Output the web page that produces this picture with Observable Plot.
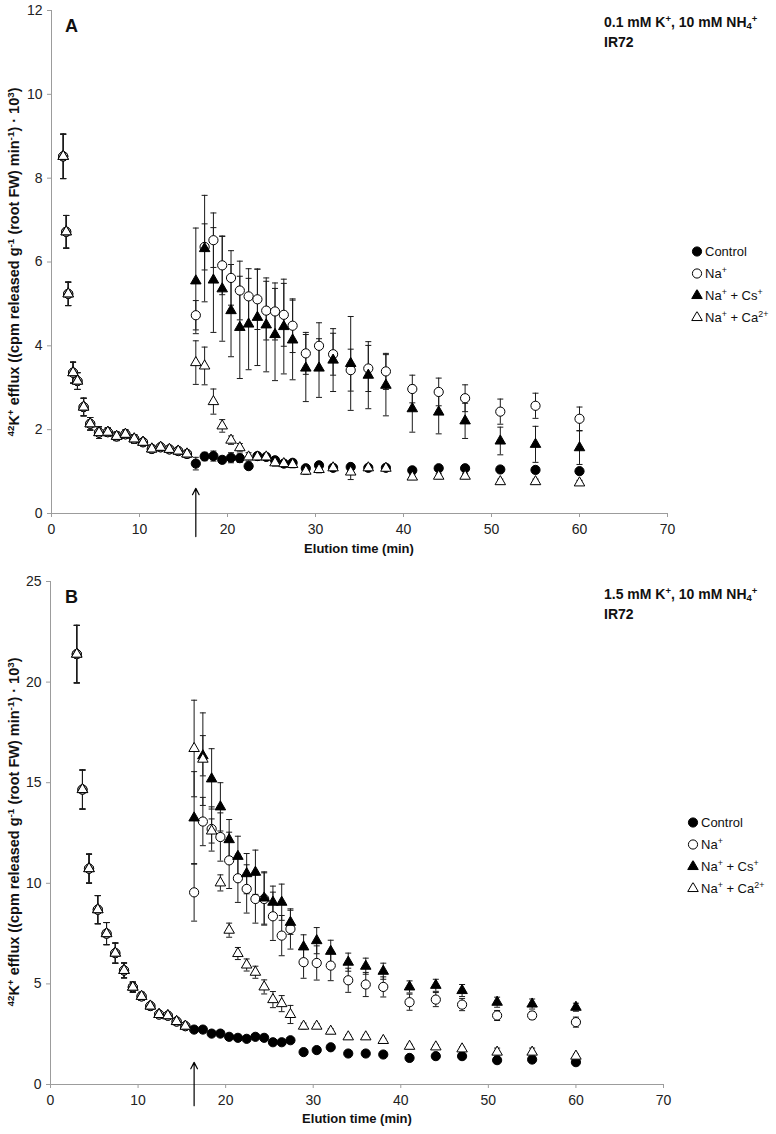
<!DOCTYPE html>
<html>
<head>
<meta charset="utf-8">
<script src="https://cdn.jsdelivr.net/npm/d3@7"></script>
<script src="https://cdn.jsdelivr.net/npm/@observablehq/plot@0.6"></script>
<style>
  html, body { margin: 0; padding: 0; background: #fff; }
  #root { position: relative; width: 776px; height: 1134px; font-family: "Liberation Sans", Arial, sans-serif; color: #111; }
  .abs { position: absolute; white-space: nowrap; }
  sup, sub { font-size: 0.68em; line-height: 0; }
  sup { vertical-align: 0.55em; }
  sub { vertical-align: -0.25em; }
  .ytitle { font-weight: bold; font-size: 14.5px; transform: translate(-50%, -50%) rotate(-90deg); }
  .xtitle { font-weight: bold; font-size: 13px; transform: translate(-50%, -50%); }
  .letter { font-weight: bold; font-size: 18px; transform: translateY(-50%); }
  .cond { font-weight: bold; font-size: 14px; transform: translateY(-50%); }
  .leg { font-size: 13px; display: flex; align-items: center; transform: translateY(-50%); }
  .leg svg { margin-right: 2px; }
</style>
</head>
<body>
<div id="root"></div>
<script>
// ---------- shared ----------
const ticksX = [0, 10, 20, 30, 40, 50, 60, 70];
const ticksYA = [0, 2, 4, 6, 8, 10, 12];
const ticksYB = [0, 5, 10, 15, 20, 25];
const seriesKeys = ["control", "na", "nacs", "naca"];
const seriesLabels = ["Control", "Na<sup>+</sup>", "Na<sup>+</sup> + Cs<sup>+</sup>", "Na<sup>+</sup> + Ca<sup>2+</sup>"];
const postTime = [16.4, 17.4, 18.4, 19.4, 20.4, 21.4, 22.4, 23.4, 24.4, 25.4, 26.4, 27.4, 28.9, 30.4, 32, 34, 36, 38, 41, 44, 47, 51, 55, 60];
const treatmentTime = 16.4;

// ---------- panel A: 0.1 mM K+ ----------
const preTimeA = [1.33, 1.67, 1.9, 2.45, 2.95, 3.65, 4.4, 5.4, 6.4, 7.4, 8.4, 9.4, 10.4, 11.4, 12.4, 13.4, 14.4, 15.4];
const preMeanA = [8.52, 6.72, 5.24, 3.36, 3.16, 2.54, 2.14, 1.93, 1.94, 1.84, 1.89, 1.78, 1.70, 1.54, 1.58, 1.53, 1.49, 1.42];
const preErrA  = [0.53, 0.39, 0.28, 0.25, 0.2, 0.21, 0.15, 0.14, 0.1, 0.1, 0.1, 0.1, 0.08, 0.07, 0.07, 0.07, 0.07, 0.07];

const controlA    = [1.19, 1.36, 1.37, 1.28, 1.33, 1.32, 1.13, 1.37, 1.35, 1.27, 1.19, 1.21, 1.08, 1.15, 1.09, 1.11, 1.09, 1.09, 1.03, 1.08, 1.08, 1.05, 1.04, 1.01];
const controlErrA = [0.15, 0.1, 0.12, 0.08, 0.12, 0.1, 0.06, 0.08, 0.08, 0.08, 0.07, 0.07, 0.07, 0.07, 0.06, 0.07, 0.06, 0.06, 0.06, 0.06, 0.06, 0.07, 0.07, 0.06];
const naA    = [4.73, 6.36, 6.52, 5.92, 5.62, 5.32, 5.18, 5.11, 4.84, 4.82, 4.74, 4.48, 3.82, 4.0, 3.8, 3.42, 3.46, 3.39, 2.97, 2.90, 2.75, 2.43, 2.57, 2.26];
const naErrA = [0.35, 0.55, 0.65, 0.7, 0.65, 0.7, 0.66, 0.72, 0.7, 0.68, 0.75, 0.64, 0.5, 0.55, 0.5, 0.5, 0.55, 0.43, 0.33, 0.33, 0.32, 0.3, 0.3, 0.28];
const naCsA    = [5.55, 6.32, 5.57, 5.36, 4.84, 4.44, 4.52, 4.68, 4.5, 4.27, 4.46, 4.14, 3.47, 3.47, 3.66, 3.58, 3.3, 3.06, 2.5, 2.42, 2.21, 1.73, 1.65, 1.57];
const naCsErrA = [1.26, 1.27, 1.25, 1.25, 1.1, 1.22, 1.09, 1.15, 1.12, 1.1, 1.13, 0.95, 0.8, 0.7, 0.75, 1.12, 0.8, 0.73, 0.56, 0.52, 0.42, 0.33, 0.43, 0.4];
const naCaA    = [3.6, 3.52, 2.67, 2.09, 1.75, 1.57, 1.35, 1.35, 1.35, 1.21, 1.19, 1.17, 1.01, 1.05, 1.09, 0.99, 1.09, 1.08, 0.87, 0.89, 0.89, 0.76, 0.76, 0.73];
const naCaErrA = [0.52, 0.45, 0.3, 0.15, 0.1, 0.1, 0.1, 0.08, 0.08, 0.08, 0.08, 0.08, 0.08, 0.08, 0.08, 0.18, 0.08, 0.07, 0.06, 0.06, 0.06, 0.06, 0.06, 0.06];

// ---------- panel B: 1.5 mM K+ ----------
const preTimeB = [3.0, 3.65, 4.4, 5.4, 6.4, 7.4, 8.4, 9.4, 10.4, 11.4, 12.4, 13.4, 14.4, 15.4];
const preMeanB = [21.39, 14.66, 10.73, 8.69, 7.50, 6.53, 5.67, 4.84, 4.38, 3.9, 3.48, 3.42, 3.13, 2.9];
const preErrB  = [1.43, 0.97, 0.72, 0.7, 0.55, 0.5, 0.37, 0.25, 0.2, 0.15, 0.1, 0.1, 0.1, 0.1];

const controlB    = [2.73, 2.73, 2.53, 2.53, 2.37, 2.32, 2.27, 2.37, 2.32, 2.10, 2.10, 2.20, 1.61, 1.71, 1.85, 1.54, 1.54, 1.49, 1.32, 1.41, 1.41, 1.21, 1.24, 1.11];
const controlErrB = [0.1, 0.1, 0.08, 0.08, 0.08, 0.08, 0.08, 0.08, 0.08, 0.08, 0.08, 0.08, 0.08, 0.08, 0.08, 0.08, 0.08, 0.08, 0.08, 0.08, 0.08, 0.08, 0.08, 0.08];
const naB    = [9.55, 13.07, 12.7, 12.3, 11.14, 10.25, 9.72, 9.22, 9.22, 8.36, 7.40, 7.73, 6.08, 6.04, 5.91, 5.18, 4.97, 4.85, 4.09, 4.22, 3.97, 3.43, 3.43, 3.10];
const naErrB = [1.43, 1.2, 1.1, 1.2, 1.4, 1.2, 1.2, 1.2, 1.3, 1.2, 1.0, 1.0, 0.8, 0.85, 0.75, 0.6, 0.6, 0.5, 0.4, 0.35, 0.3, 0.25, 0.2, 0.25];
const naCsB    = [13.25, 16.34, 15.19, 13.8, 12.17, 11.34, 10.48, 10.55, 9.27, 9.06, 9.06, 8.06, 6.84, 7.15, 6.62, 6.08, 5.88, 5.63, 4.85, 4.93, 4.67, 4.09, 4.0, 3.84];
const naCsErrB = [2.3, 1.0, 1.5, 1.2, 1.0, 1.0, 1.0, 1.1, 1.3, 0.8, 0.9, 0.6, 0.6, 0.65, 0.55, 0.45, 0.4, 0.4, 0.3, 0.3, 0.3, 0.25, 0.25, 0.2];
const naCaB    = [16.7, 16.17, 12.6, 10.02, 7.67, 6.51, 5.94, 5.58, 4.85, 4.22, 4.02, 3.48, 2.9, 2.9, 2.65, 2.37, 2.37, 2.19, 1.9, 1.87, 1.77, 1.61, 1.61, 1.41];
const naCaErrB = [2.4, 2.3, 0.6, 0.4, 0.35, 0.3, 0.3, 0.3, 0.35, 0.4, 0.4, 0.45, 0.15, 0.12, 0.12, 0.1, 0.1, 0.1, 0.1, 0.1, 0.1, 0.2, 0.2, 0.1];

// ---------- build ----------
const styleOf = {
  control: {symbol: "circle", fill: "#000", r: 4.6},
  na:      {symbol: "circle", fill: "#fff", r: 4.6},
  nacs:    {symbol: "triangle", fill: "#000", r: 3.9},
  naca:    {symbol: "triangle", fill: "#fff", r: 3.9}
};

function buildRows(preT, preM, preE, post) {
  const rows = [];
  seriesKeys.forEach((k, i) => {
    preT.forEach((t, j) => rows.push({s: k, t, v: preM[j], e: preE[j]}));
    postTime.forEach((t, j) => rows.push({s: k, t, v: post[i][0][j], e: post[i][1][j]}));
  });
  return rows;
}

const capSymbol = {
  draw(ctx, size) {
    const r = Math.sqrt(size / Math.PI);
    ctx.moveTo(-r, 0); ctx.lineTo(r, 0);
  }
};

function panel(rows, yDomain, yTicks, opts) {
  const marks = [
    Plot.ruleY([0], {stroke: "#9c9c9c", strokeWidth: 1}),
    Plot.ruleX([0], {stroke: "#9c9c9c", strokeWidth: 1}),
    Plot.axisX({ticks: ticksX, tickSize: 4, tickPadding: 7, stroke: "#9c9c9c", fill: "#222", label: null, tickFormat: d => d}),
    Plot.axisY({ticks: yTicks, tickSize: 4, tickPadding: 5, stroke: "#9c9c9c", fill: "#222", label: null, tickFormat: d => d}),
    Plot.ruleX(rows, {x: "t", y1: d => d.v - d.e, y2: d => d.v + d.e, stroke: "#1a1a1a", strokeWidth: 1}),
    Plot.dot(rows, {x: "t", y: d => d.v + d.e, symbol: capSymbol, r: 3, stroke: "#1a1a1a", fill: "none", strokeWidth: 1}),
    Plot.dot(rows, {x: "t", y: d => d.v - d.e, symbol: capSymbol, r: 3, stroke: "#1a1a1a", fill: "none", strokeWidth: 1}),
  ];
  seriesKeys.forEach(k => {
    const st = styleOf[k];
    marks.push(Plot.dot(rows.filter(d => d.s === k), {x: "t", y: "v", symbol: st.symbol, r: st.r, fill: st.fill, stroke: "#000", strokeWidth: 1}));
  });
  marks.push(Plot.arrow([{x: treatmentTime, from: opts.arrowFrom, to: opts.arrowTo}], {
    x1: "x", x2: "x", y1: "from", y2: "to", stroke: "#000", strokeWidth: 1.2, headLength: 9, headAngle: 55
  }));
  return Plot.plot({
    width: 776, height: opts.height,
    marginLeft: opts.ml, marginRight: opts.mr, marginTop: opts.mt, marginBottom: opts.mb,
    x: {domain: [0, 70]},
    y: {domain: yDomain},
    style: {fontFamily: "'Liberation Sans', Arial, sans-serif", fontSize: "14px", background: "transparent", overflow: "visible"},
    marks
  });
}

const root = document.getElementById("root");

const rowsA = buildRows(preTimeA, preMeanA, preErrA, [[controlA, controlErrA], [naA, naErrA], [naCsA, naCsErrA], [naCaA, naCaErrA]]);
const rowsB = buildRows(preTimeB, preMeanB, preErrB, [[controlB, controlErrB], [naB, naErrB], [naCsB, naCsErrB], [naCaB, naCaErrB]]);

const svgA = panel(rowsA, [0, 12], ticksYA, {height: 560, ml: 51, mr: 109, mt: 10, mb: 47, arrowFrom: -0.55, arrowTo: 0.6});
svgA.style.position = "absolute"; svgA.style.left = "0px"; svgA.style.top = "0px";
root.appendChild(svgA);

const svgB = panel(rowsB, [0, 25], ticksYB, {height: 561, ml: 50, mr: 113, mt: 11, mb: 47, arrowFrom: -1.05, arrowTo: 1.1});
svgB.style.position = "absolute"; svgB.style.left = "0px"; svgB.style.top = "570px";
root.appendChild(svgB);

// ---------- text ----------
const yTitle = "<sup>42</sup>K<sup>+</sup> efflux ((cpm released g<sup>-1</sup> (root FW) min<sup>-1</sup>) · 10<sup>3</sup>)";
function addDiv(cls, html, left, top) {
  const d = document.createElement("div");
  d.className = "abs " + cls;
  d.innerHTML = html;
  d.style.left = left + "px"; d.style.top = top + "px";
  root.appendChild(d);
  return d;
}
addDiv("ytitle", yTitle, 14, 262);
addDiv("ytitle", yTitle, 14, 832);
addDiv("xtitle", "Elution time (min)", 359, 548);
addDiv("xtitle", "Elution time (min)", 357, 1118);
addDiv("letter", "A", 65, 26);
addDiv("letter", "B", 65, 597);
addDiv("cond", "0.1 mM K<sup>+</sup>, 10 mM NH<sub>4</sub><sup>+</sup>", 604, 22);
addDiv("cond", "IR72", 604, 42);
addDiv("cond", "1.5 mM K<sup>+</sup>, 10 mM NH<sub>4</sub><sup>+</sup>", 604, 594);
addDiv("cond", "IR72", 604, 614);

function legend(x, y0, dy) {
  seriesKeys.forEach((k, i) => {
    const st = styleOf[k];
    const sym = st.symbol === "circle" ? d3.symbolCircle : d3.symbolTriangle;
    const path = d3.symbol(sym, Math.PI * st.r * st.r)();
    const html = `<svg width="12" height="12" viewBox="-6 -6 12 12"><path d="${path}" fill="${st.fill}" stroke="#000" stroke-width="1"/></svg><span>${seriesLabels[i]}</span>`;
    addDiv("leg", html, x - 6, y0 + i * dy);
  });
}
legend(697, 251, 22);
legend(693, 822, 22);
</script>
</body>
</html>
